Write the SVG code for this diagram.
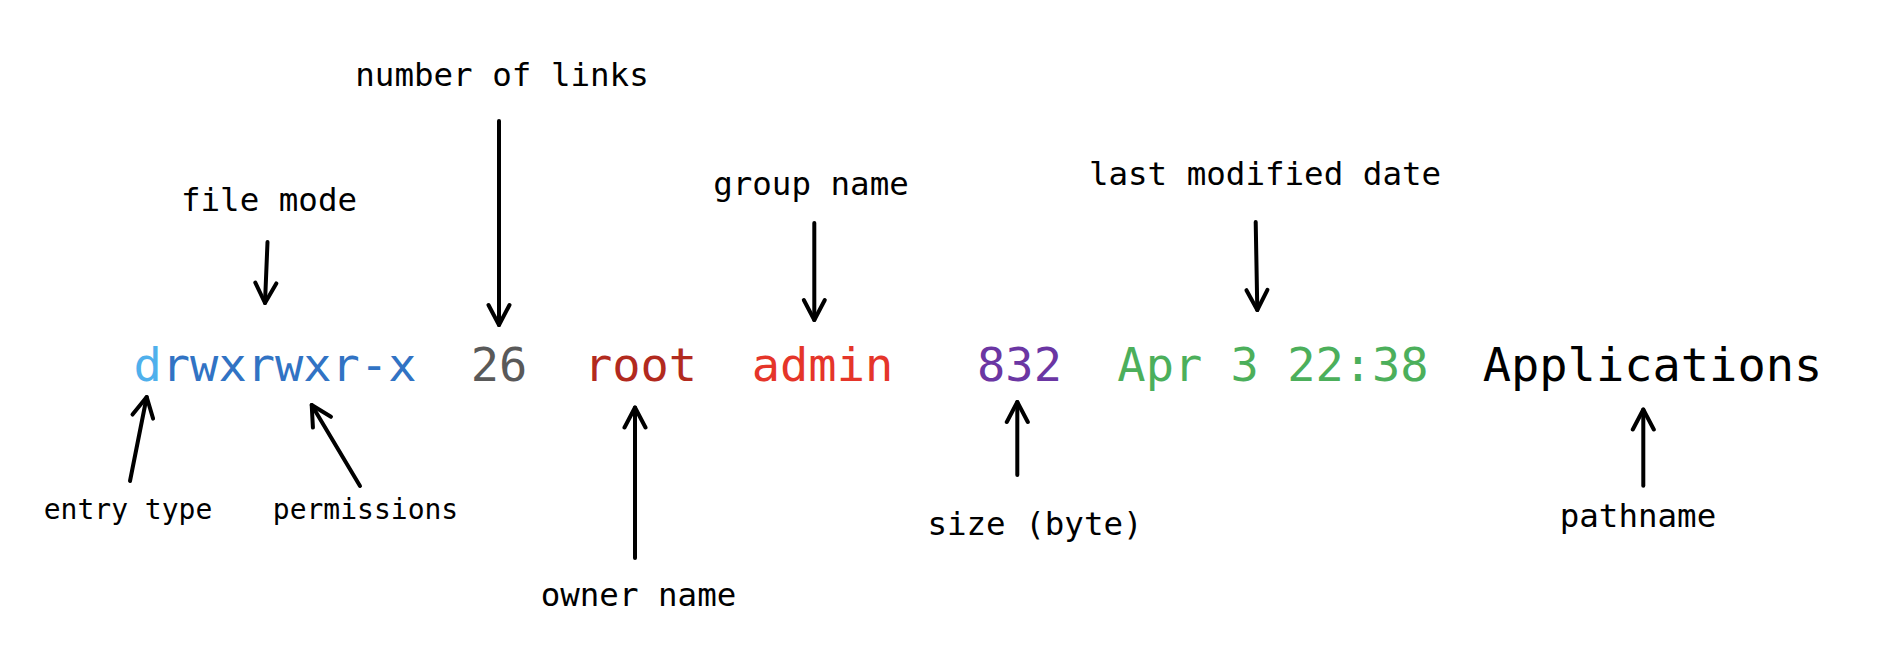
<svg xmlns="http://www.w3.org/2000/svg" width="1882" height="666" viewBox="0 0 1882 666">
<style>
.main{font-family:"DejaVu Sans Mono","Liberation Mono",monospace;font-size:47px;text-anchor:middle}
.lbl{font-family:"DejaVu Sans Mono","Liberation Mono",monospace;font-size:32.5px;text-anchor:middle;fill:#000}
.sm{font-size:28px}
.arr{stroke:#000;stroke-width:4;stroke-linecap:round;fill:none;marker-end:url(#head)}
</style>
<defs>
<marker id="head" markerUnits="userSpaceOnUse" viewBox="-25 -14 28 28" refX="0" refY="0" markerWidth="28" markerHeight="28" orient="auto">
<path d="M-20,-10.5 L0,0 L-20,10.5" fill="none" stroke="#000" stroke-width="4" stroke-linecap="round" stroke-linejoin="round"/>
</marker>
</defs>
<rect width="1882" height="666" fill="#fff"/>
<g id="mode"><text class="main" x="275" y="381"><tspan fill="#4FB0EC">d</tspan><tspan fill="#3173C4">rwxrwxr-x</tspan></text></g>
<g id="links"><text class="main" x="499" y="381" fill="#595959">26</text></g>
<g id="owner"><text class="main" x="640.5" y="381" fill="#B22A1E">root</text></g>
<g id="group"><text class="main" x="822.5" y="381" fill="#E5352A">admin</text></g>
<g id="size"><text class="main" x="1019.5" y="381" fill="#6B36A3">832</text></g>
<g id="date"><text class="main" x="1273" y="381" fill="#4CAF5B">Apr 3 22:38</text></g>
<g id="path"><text class="main" x="1652.5" y="381" fill="#000">Applications</text></g>
<g id="lbl-links"><text class="lbl" x="502" y="86">number of links</text></g>
<g id="lbl-mode"><text class="lbl" x="269" y="211">file mode</text></g>
<g id="lbl-group"><text class="lbl" x="811" y="195">group name</text></g>
<g id="lbl-date"><text class="lbl" x="1265" y="185">last modified date</text></g>
<g id="lbl-entry"><text class="lbl sm" x="128" y="519">entry type</text></g>
<g id="lbl-perm"><text class="lbl sm" x="365.5" y="519">permissions</text></g>
<g id="lbl-owner"><text class="lbl" x="638.5" y="606">owner name</text></g>
<g id="lbl-size"><text class="lbl" x="1035" y="535">size (byte)</text></g>
<g id="lbl-path"><text class="lbl" x="1638" y="527">pathname</text></g>
<g id="connectors">
<line class="arr" x1="267.5" y1="242" x2="265" y2="303"/>
<line class="arr" x1="499" y1="121" x2="499" y2="325"/>
<line class="arr" x1="814.3" y1="223" x2="814.3" y2="320"/>
<line class="arr" x1="1255.7" y1="222" x2="1257.3" y2="310"/>
<line class="arr" x1="130" y1="481" x2="146.7" y2="397"/>
<line class="arr" x1="360" y1="486" x2="311.7" y2="405"/>
<line class="arr" x1="635" y1="558" x2="635" y2="407.5"/>
<line class="arr" x1="1017.3" y1="475" x2="1017.3" y2="402"/>
<line class="arr" x1="1643.3" y1="485.7" x2="1643.3" y2="409.5"/>
</g>
</svg>
